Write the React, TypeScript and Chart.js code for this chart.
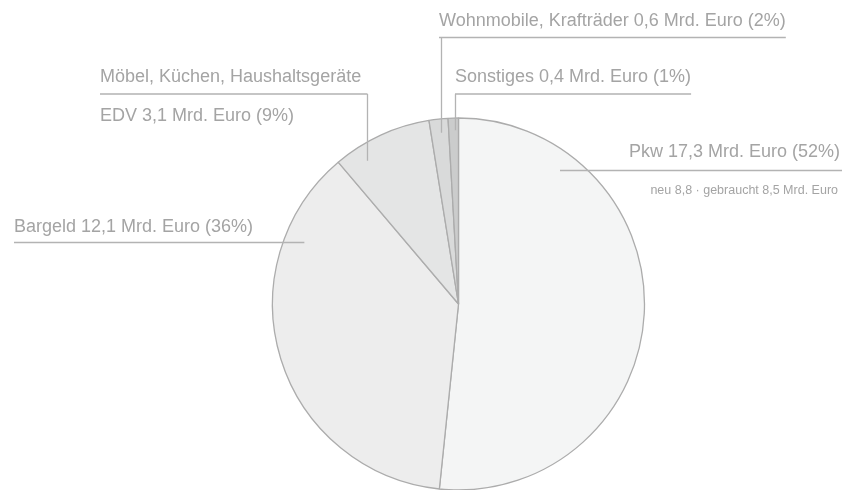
import React, { useEffect, useRef } from "react";
import { Chart, registerables } from "chart.js";

Chart.register(...registerables);

const categories = ["Pkw", "Bargeld", "EDV", "Wohnmobile, Krafträder", "Sonstiges"];
// slice sizes (Mrd. Euro)
const values = [17.3, 12.45, 2.9, 0.55, 0.3];
const sliceColors = ["#f4f5f5", "#ededed", "#e4e5e5", "#d9dada", "#cbcccc"];

// label texts (one or more lines per slice)
const labelTexts = [
  ["Pkw 17,3 Mrd. Euro (52%)"],
  ["Bargeld 12,1 Mrd. Euro (36%)"],
  ["Möbel, Küchen, Haushaltsgeräte", "EDV 3,1 Mrd. Euro (9%)"],
  ["Wohnmobile, Krafträder 0,6 Mrd. Euro (2%)"],
  ["Sonstiges 0,4 Mrd. Euro (1%)"],
];
const subTexts = ["neu 8,8 · gebraucht 8,5 Mrd. Euro", "", "", "", ""];

// label layout (style): text anchor, baselines, leader line y, and where the leader touches the slice
type Layout = {
  x: number; align: "left" | "right"; baselines: number[]; lineY: number | null;
  frac: number; dist: number; subBaseline?: number;
};
const layouts: Layout[] = [
  { x: 840, align: "right", baselines: [157], lineY: null, frac: 0.2, dist: 0.903, subBaseline: 194 },
  { x: 14, align: "left", baselines: [232], lineY: null, frac: 0.792, dist: 0.893 },
  { x: 100, align: "left", baselines: [82, 120.5], lineY: 94, frac: 0.247, dist: 0.914 },
  { x: 439, align: "left", baselines: [26], lineY: 37.5, frac: 0.54, dist: 0.925 },
  { x: 455, align: "left", baselines: [82], lineY: 94, frac: 0.62, dist: 0.935 },
];

const FONT = '18px "Liberation Sans", Arial, sans-serif';
const SUBFONT = '12.5px "Liberation Sans", Arial, sans-serif';
const TEXT_COLOR = "#a4a4a4";
const LINE_COLOR = "#b3b3b3";

const labelPlugin = {
  id: "leaderLabels",
  afterDraw(chart: any) {
    const ctx = chart.ctx as CanvasRenderingContext2D;
    const meta = chart.getDatasetMeta(0);
    ctx.save();
    meta.data.forEach((arc: any, i: number) => {
      const L = layouts[i];
      const p = arc.getProps(["x", "y", "startAngle", "endAngle", "outerRadius"], true);
      const a = p.startAngle + (p.endAngle - p.startAngle) * L.frac;
      const ax = p.x + Math.cos(a) * p.outerRadius * L.dist;
      const ay = p.y + Math.sin(a) * p.outerRadius * L.dist;

      ctx.font = FONT;
      ctx.fillStyle = TEXT_COLOR;
      ctx.textBaseline = "alphabetic";
      ctx.textAlign = L.align;
      const lines = labelTexts[i];
      let left = Infinity;
      let right = -Infinity;
      lines.forEach((t, k) => {
        ctx.fillText(t, L.x, L.baselines[k]);
        const w = ctx.measureText(t).width;
        const l = L.align === "left" ? L.x : L.x - w;
        if (k === 0) {
          left = l;
          right = l + w;
        }
      });
      if (subTexts[i]) {
        ctx.font = SUBFONT;
        ctx.fillText(subTexts[i], L.x - 2, L.subBaseline as number);
      }

      ctx.strokeStyle = LINE_COLOR;
      ctx.lineWidth = 1.3;
      ctx.beginPath();
      if (L.lineY === null) {
        const y = Math.round(ay) + 0.5;
        ctx.moveTo(Math.min(left, ax), y);
        ctx.lineTo(Math.max(right + 2, ax), y);
      } else {
        const y = L.lineY;
        const vx = Math.round(ax) + 0.5;
        ctx.moveTo(Math.min(left, vx), y);
        ctx.lineTo(Math.max(right, vx), y);
        ctx.moveTo(vx, y);
        ctx.lineTo(vx, ay);
      }
      ctx.stroke();
    });
    ctx.restore();
  },
};

export default function App() {
  const ref = useRef<HTMLCanvasElement | null>(null);
  useEffect(() => {
    if (!ref.current) return;
    const chart = new Chart(ref.current, {
      type: "pie",
      data: {
        labels: categories,
        datasets: [
          {
            data: values,
            backgroundColor: sliceColors,
            borderColor: "#acacac",
            borderWidth: 1.3,
            hoverOffset: 0,
          },
        ],
      },
      options: {
        animation: false,
        responsive: true,
        maintainAspectRatio: false,
        radius: 186,
        layout: { padding: { left: 75, right: 0, top: 118, bottom: 0 } },
        plugins: { legend: { display: false }, tooltip: { enabled: false } },
        events: [],
      } as any,
      plugins: [labelPlugin],
    });
    return () => chart.destroy();
  }, []);
  return (
    <div style={{ position: "fixed", left: 0, top: 0, width: 842, height: 490, background: "#fff" }}>
      <canvas ref={ref} />
    </div>
  );
}
